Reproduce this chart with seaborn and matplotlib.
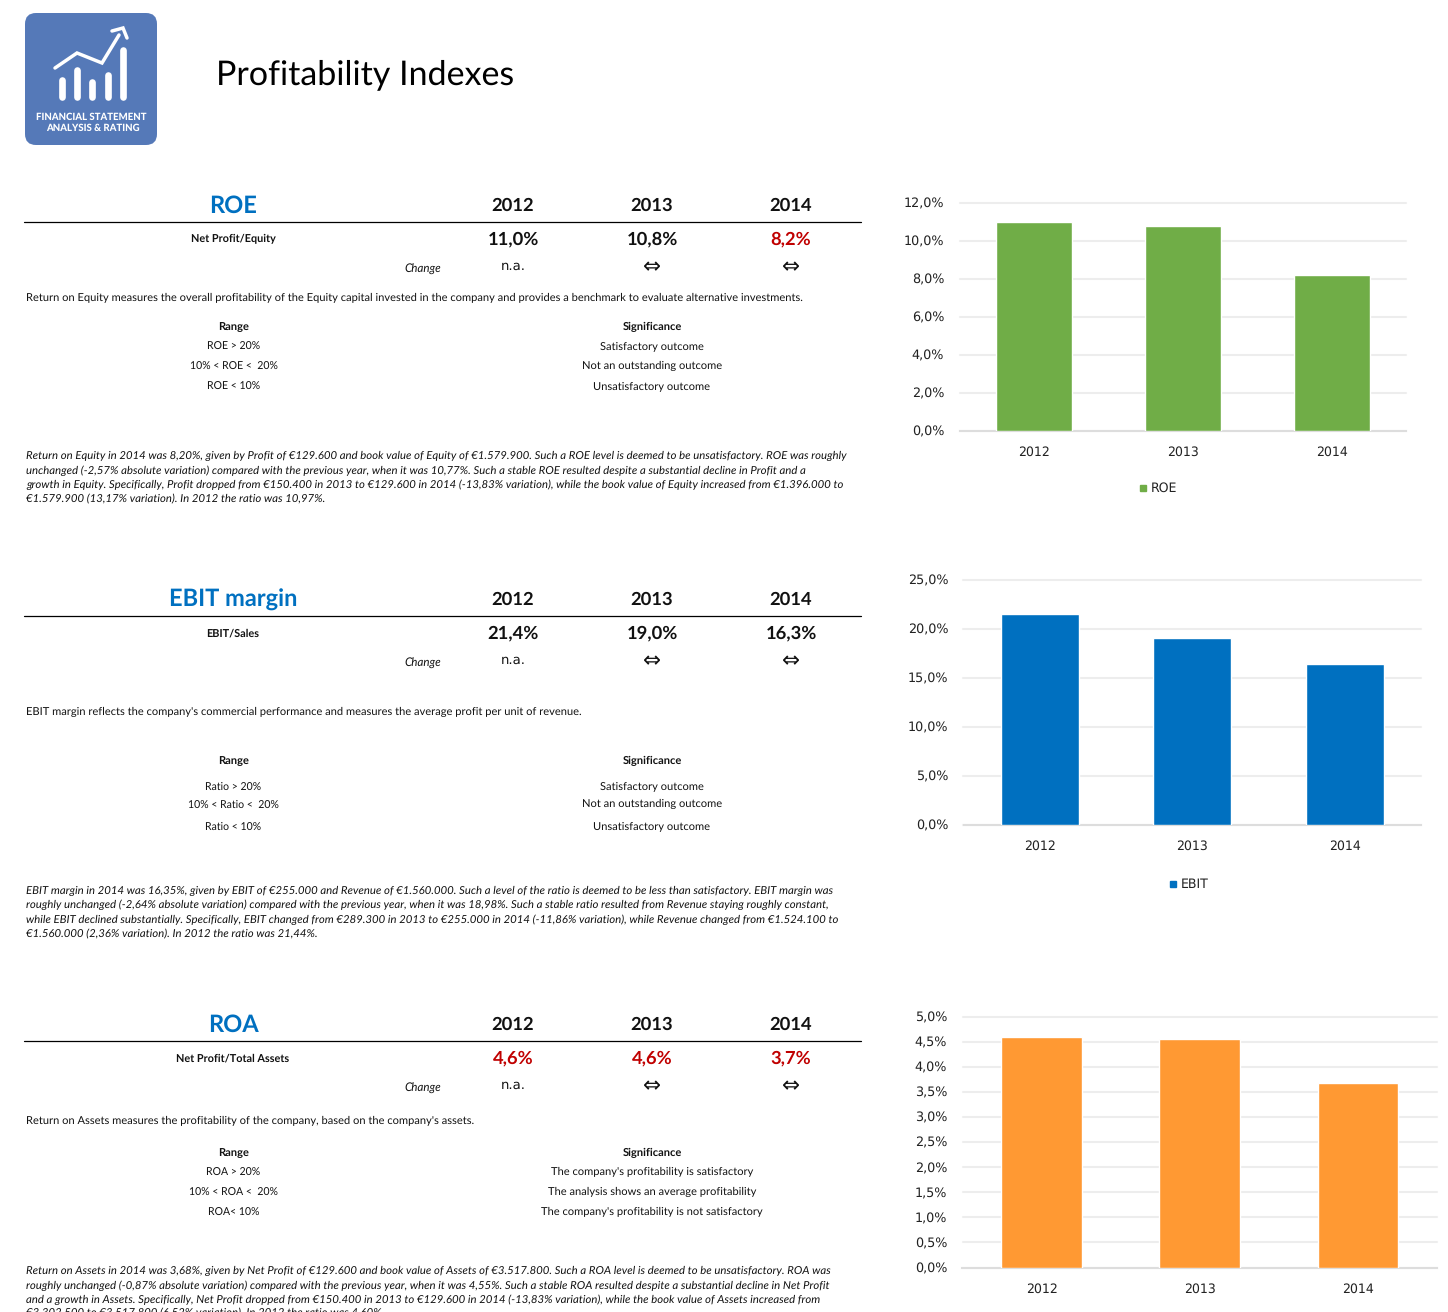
import matplotlib
matplotlib.use("Agg")
import matplotlib.pyplot as plt
from matplotlib.patches import FancyBboxPatch
import seaborn as sns

W, H = 1448, 1312

years = ["2012", "2013", "2014"]

roe_values = [10.97, 10.77, 8.20]
ebit_values = [21.44, 18.98, 16.35]
roa_values = [4.60, 4.55, 3.68]

# shown in the table as printed in the source sheet
roe_labels = ["11,0%", "10,8%", "8,2%"]
ebit_labels = ["21,4%", "19,0%", "16,3%"]
roa_labels = ["4,6%", "4,6%", "3,7%"]

roe_ticks = [0, 2, 4, 6, 8, 10, 12]
ebit_ticks = [0, 5, 10, 15, 20, 25]
roa_ticks = [0, 0.5, 1, 1.5, 2, 2.5, 3, 3.5, 4, 4.5, 5]

roe_range = ["ROE > 20%", "10% < ROE <  20%", "ROE < 10%"]
roe_signif = ["Satisfactory outcome", "Not an outstanding outcome", "Unsatisfactory outcome"]
ebit_range = ["Ratio > 20%", "10% < Ratio <  20%", "Ratio < 10%"]
ebit_signif = roe_signif
roa_range = ["ROA > 20%", "10% < ROA <  20%", "ROA< 10%"]
roa_signif = ["The company's profitability is satisfactory",
              "The analysis shows an average profitability",
              "The company's profitability is not satisfactory"]

roe_desc = ("Return on Equity measures the overall profitability of the Equity capital invested "
            "in the company and provides a benchmark to evaluate alternative investments.")
ebit_desc = "EBIT margin reflects the company's commercial performance and measures the average profit per unit of revenue."
roa_desc = "Return on Assets measures the profitability of the company, based on the company's assets."

roe_notes = [
    "Return on Equity in 2014 was 8,20%, given by Profit of €129.600 and book value of Equity of €1.579.900. Such a ROE level is deemed to be unsatisfactory. ROE was roughly",
    "unchanged (-2,57% absolute variation) compared with the previous year, when it was 10,77%. Such a stable ROE resulted despite a substantial decline in Profit and a",
    "growth in Equity. Specifically, Profit dropped from €150.400 in 2013 to €129.600 in 2014 (-13,83% variation), while the book value of Equity increased from €1.396.000 to",
    "€1.579.900 (13,17% variation). In 2012 the ratio was 10,97%.",
]
ebit_notes = [
    "EBIT margin in 2014 was 16,35%, given by EBIT of €255.000 and Revenue of €1.560.000. Such a level of the ratio is deemed to be less than satisfactory. EBIT margin was",
    "roughly unchanged (-2,64% absolute variation) compared with the previous year, when it was 18,98%. Such a stable ratio resulted from Revenue staying roughly constant,",
    "while EBIT declined substantially. Specifically, EBIT changed from €289.300 in 2013 to €255.000 in 2014 (-11,86% variation), while Revenue changed from €1.524.100 to",
    "€1.560.000 (2,36% variation). In 2012 the ratio was 21,44%.",
]
roa_notes = [
    "Return on Assets in 2014 was 3,68%, given by Net Profit of €129.600 and book value of Assets of €3.517.800. Such a ROA level is deemed to be unsatisfactory. ROA was",
    "roughly unchanged (-0,87% absolute variation) compared with the previous year, when it was 4,55%. Such a stable ROA resulted despite a substantial decline in Net Profit",
    "and a growth in Assets. Specifically, Net Profit dropped from €150.400 in 2013 to €129.600 in 2014 (-13,83% variation), while the book value of Assets increased from",
    "€3.302.500 to €3.517.800 (6,52% variation). In 2012 the ratio was 4,60%.",
]

sns.set_theme(style="white")
plt.rcParams["font.family"] = ["Lato", "DejaVu Sans"]
plt.rcParams["text.hinting"] = "none"

BLUE = "#0070C0"
RED = "#C00000"
TEXT = "#111111"

fig = plt.figure(figsize=(W / 100, H / 100), dpi=100, facecolor="white")

# page layer in pixel coordinates
page = fig.add_axes([0, 0, 1, 1], zorder=5)
page.set_xlim(0, W)
page.set_ylim(H, 0)
page.axis("off")
page.patch.set_alpha(0)


def draw_logo(ax):
    ax.add_patch(FancyBboxPatch((33, 21), 116, 116, boxstyle="round,pad=8,rounding_size=11",
                                fc="#5579B8", ec="none"))
    for x, top in zip([62, 77, 92, 108, 123], [80, 70, 82, 75, 50]):
        ax.plot([x, x], [top, 97], color="white", lw=4.8, solid_capstyle="round")
    ax.plot([55, 77, 102, 119], [68, 53, 63, 35], color="white", lw=2.5, solid_joinstyle="miter")
    ax.plot([112, 123, 127], [31, 28, 38], color="white", lw=2.5, solid_joinstyle="miter")
    ax.text(91.5, 117, "FINANCIAL STATEMENT", color="white", fontsize=6.9, fontweight="black",
            ha="center", va="center")
    ax.text(92.5, 128.5, "ANALYSIS & RATING", color="white", fontsize=6.9, fontweight="black",
            ha="center", va="center")


def put(x, y, s, size, ha="center", **kw):
    kw.setdefault("color", TEXT)
    page.text(x, y, s, fontsize=size, ha=ha, va="center", **kw)


def draw_section(title, formula, labels, colors, y_head, y_desc, desc, y_range, ranges, signif, y_notes, notes):
    put(233.5, y_head + 0.5, title, 17, color=BLUE, fontweight="bold")
    page.plot([24, 861], [y_head + 17, y_head + 17], color="black", lw=0.9)
    put(233, y_head + 34, formula, 7.8, fontweight="bold")
    put(422.5, y_head + 64, "Change", 8.4, style="italic")
    put(513, y_head + 61.5, "n.a.", 9.5, family="DejaVu Sans")
    for x, yr, val, col in zip([513, 652, 791], years, labels, colors):
        put(x, y_head + 0.5, yr, 13.2, fontweight="bold")
        put(x, y_head + 34.5, val, 13.2, fontweight="bold", color=col)
    for x in [652, 791]:
        put(x, y_head + 62, "⇔", 15.5, family="DejaVu Sans")
    put(26, y_desc, desc, 8.0, ha="left")
    put(233.5, y_range[0] + 0.7, "Range", 8.0, fontweight="bold")
    put(652, y_range[0] + 0.7, "Significance", 8.0, fontweight="bold")
    for y, r, s in zip(y_range[1:], ranges, signif):
        put(233.5, y + 1, r, 7.6)
        put(652, y + 0.3, s, 8.0)
    for y, line in zip(y_notes, notes):
        put(26, y + 0.7, line, 8.23, ha="left", style="italic")


def draw_chart(box, values, ticks, color, label, top_value, legend_xy=None):
    left, right, top, bottom = box
    ax = fig.add_axes([left / W, 1 - bottom / H, (right - left) / W, (bottom - top) / H])
    sns.barplot(x=years, y=values, color=color, width=0.51, saturation=1, ax=ax, zorder=3)
    ax.set_ylim(0, top_value)
    ax.set_yticks(ticks)
    ax.set_yticklabels([f"{t:.1f}%".replace(".", ",") for t in ticks],
                       family="DejaVu Sans", fontsize=9.2, color="#222222")
    ax.tick_params(axis="x", labelsize=9, labelcolor="#222222", pad=11, length=0)
    ax.tick_params(axis="y", pad=11, length=0)
    for lab in ax.get_xticklabels():
        lab.set_family("DejaVu Sans")
    ax.set_xlabel("")
    ax.set_ylabel("")
    ax.grid(axis="y", color="#EDEDED", lw=1.5, zorder=0)
    for line in ax.get_ygridlines():
        line.set_clip_on(False)
    ax.set_axisbelow(True)
    sns.despine(ax=ax, left=True, top=True, right=True)
    ax.spines["bottom"].set_color("#DDDDDD")
    ax.spines["bottom"].set_linewidth(1.5)
    if legend_xy:
        page.plot([legend_xy[0]], [legend_xy[1]], marker="s", ms=5, color=color, ls="none")
        page.text(legend_xy[0] + 8, legend_xy[1], label, fontsize=9, family="DejaVu Sans",
                  color="#222222", ha="left", va="center")
    return ax


draw_logo(page)
put(216, 75, "Profitability Indexes", 24.5, ha="left", color="black")

draw_section("ROE", "Net Profit/Equity", roe_labels, [TEXT, TEXT, RED], 205,
             298, roe_desc, [326, 346, 366, 386], roe_range, roe_signif,
             [455.5, 470, 484, 499], roe_notes)
draw_section("EBIT margin", "EBIT/Sales", ebit_labels, [TEXT, TEXT, TEXT], 599,
             712, ebit_desc, [760, 786, 804, 826], ebit_range, ebit_signif,
             [890, 904, 919, 934], ebit_notes)
draw_section("ROA", "Net Profit/Total Assets", roa_labels, [RED, RED, RED], 1024,
             1120.5, roa_desc, [1152, 1172, 1192, 1212], roa_range, roa_signif,
             [1270, 1285, 1299, 1313], roa_notes)

draw_chart((959.5, 1406, 202.5, 430.5), roe_values, roe_ticks, "#70AD47", "ROE", 12, legend_xy=(1143, 488))
draw_chart((963.5, 1421, 579.5, 824.5), ebit_values, ebit_ticks, "#0070C0", "EBIT", 25, legend_xy=(1173, 884))
draw_chart((962.5, 1437, 1016.5, 1267.5), roa_values, roa_ticks, "#FF9933", "ROA", 5)

fig.savefig("out.png", dpi=100)
